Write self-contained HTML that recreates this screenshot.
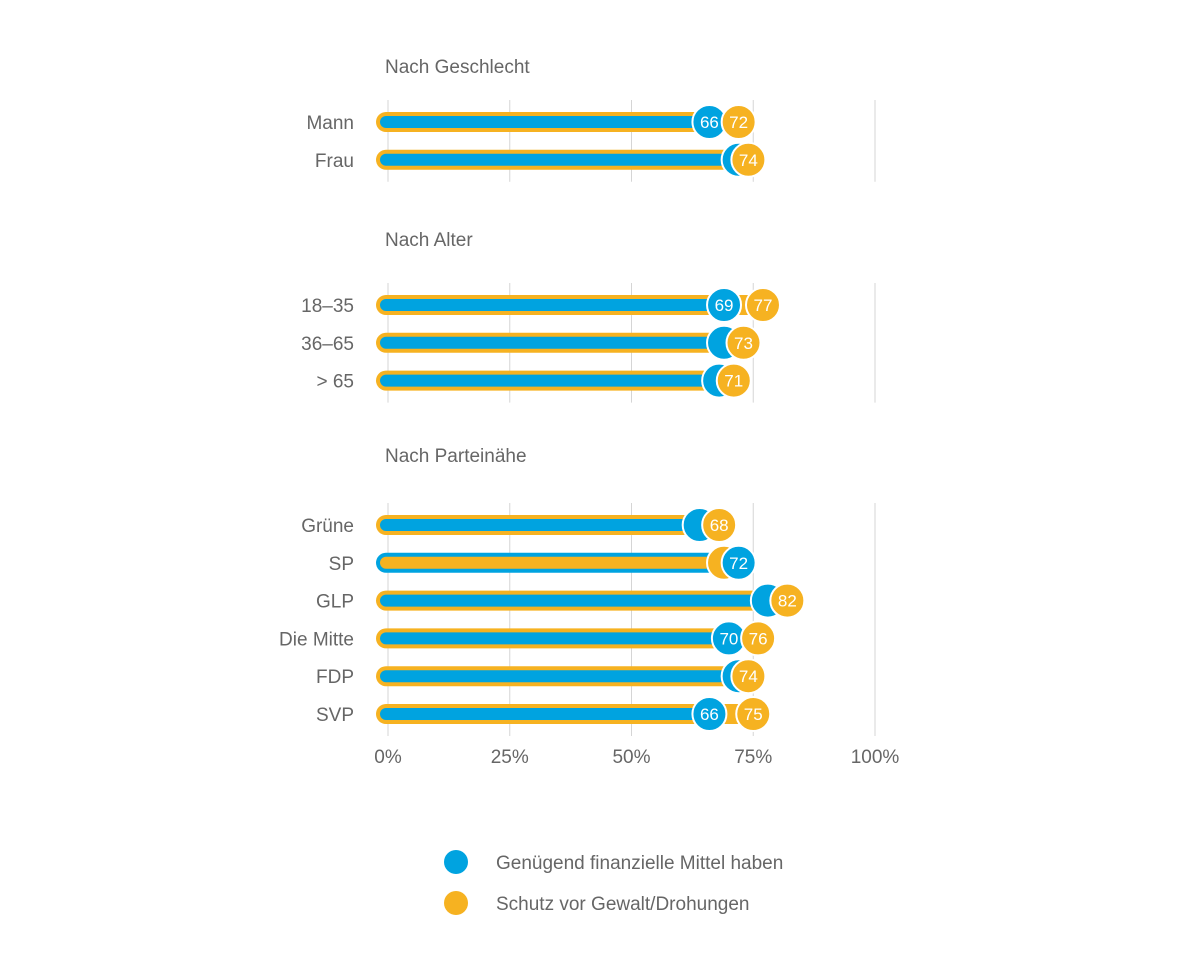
<!DOCTYPE html>
<html><head><meta charset="utf-8"><style>
body{margin:0;background:#fff;}
svg text{font-family:"Liberation Sans",Arial,sans-serif;}
</style></head><body>
<svg id="chart" width="1200" height="950" xmlns="http://www.w3.org/2000/svg"></svg>
<script>
const groups = ["Nach Geschlecht","Nach Alter","Nach Parteinähe"];
const categories = [["Mann","Frau"],["18–35","36–65","> 65"],["Grüne","SP","GLP","Die Mitte","FDP","SVP"]];
const seriesBlue = [[66,72],[69,69,68],[64,72,78,70,72,66]];
const seriesOrange = [[72,74],[77,73,71],[68,69,82,76,74,75]];
const ticks = [0,25,50,75,100];
const tickLabels = ["0%","25%","50%","75%","100%"];
const legendLabels = ["Genügend finanzielle Mittel haben","Schutz vor Gewalt/Drohungen"];

const BLUE="#00a3e0", ORANGE="#f6b221", GRAY="#666";
const svg=document.getElementById('chart');
const NS="http://www.w3.org/2000/svg";
const x=v=>388+v*4.87;
function mk(t,a,p){const e=document.createElementNS(NS,t);for(const k in a)e.setAttribute(k,a[k]);(p||svg).appendChild(e);return e;}
const headY=[67,240,456];
const rowStart=[122,305,525];
const step=37.8;
const gridTop=[100,283,503];
groups.forEach((g,gi)=>{
  const h=mk('text',{x:385,y:headY[gi]+6,'font-size':19,fill:GRAY});
  h.textContent=g;
  
  
  const n=categories[gi].length;
  const bottom=rowStart[gi]+(n-1)*step+22;
  ticks.forEach(t=>{
    const l=mk('line',{x1:x(t),x2:x(t),y1:gridTop[gi],y2:bottom,stroke:'#d5d5d5','stroke-width':1});
    
    
  });
  categories[gi].forEach((c,i)=>{
    const y=rowStart[gi]+i*step;
    const b=seriesBlue[gi][i], o=seriesOrange[gi][i];
    const lab=mk('text',{x:354,y:y+7,'font-size':19,fill:GRAY,'text-anchor':'end'});
    lab.textContent=c;
    
    
    const big=Math.max(b,o), small=Math.min(b,o);
    const bigC=o>=b?ORANGE:BLUE, smallC=o>=b?BLUE:ORANGE;
    const outer=mk('line',{x1:x(0)-2,x2:x(big),y1:y,y2:y,stroke:bigC,'stroke-width':20,'stroke-linecap':'round'});
    
    
    const inner=mk('line',{x1:x(0)-2,x2:x(small),y1:y,y2:y,stroke:smallC,'stroke-width':12,'stroke-linecap':'round'});
    
    
    const showBoth=Math.abs(b-o)>=5;
    const pts=[{v:small,c:smallC,label:showBoth},{v:big,c:bigC,label:true}];
    pts.forEach(p=>{
      const cc=mk('circle',{cx:x(p.v),cy:y,r:17,fill:p.c,stroke:'#fff','stroke-width':2});
      
      
      if(p.label){
        const t=mk('text',{x:x(p.v),y:y+6,'font-size':17,fill:'#fff','text-anchor':'middle'});
        t.textContent=p.v;
        
        
      }
    });
  });
});
ticks.forEach((t,i)=>{
  const e=mk('text',{x:x(t),y:763,'font-size':19,fill:GRAY,'text-anchor':'middle'});
  e.textContent=tickLabels[i];
  
  
});
[BLUE,ORANGE].forEach((c,i)=>{
  const y=862+i*41;
  const d=mk('circle',{cx:456,cy:y,r:12,fill:c});
  
  
  const t=mk('text',{x:496,y:y+7,'font-size':19,fill:GRAY});
  t.textContent=legendLabels[i];
  
  
});
</script>
</body></html>
